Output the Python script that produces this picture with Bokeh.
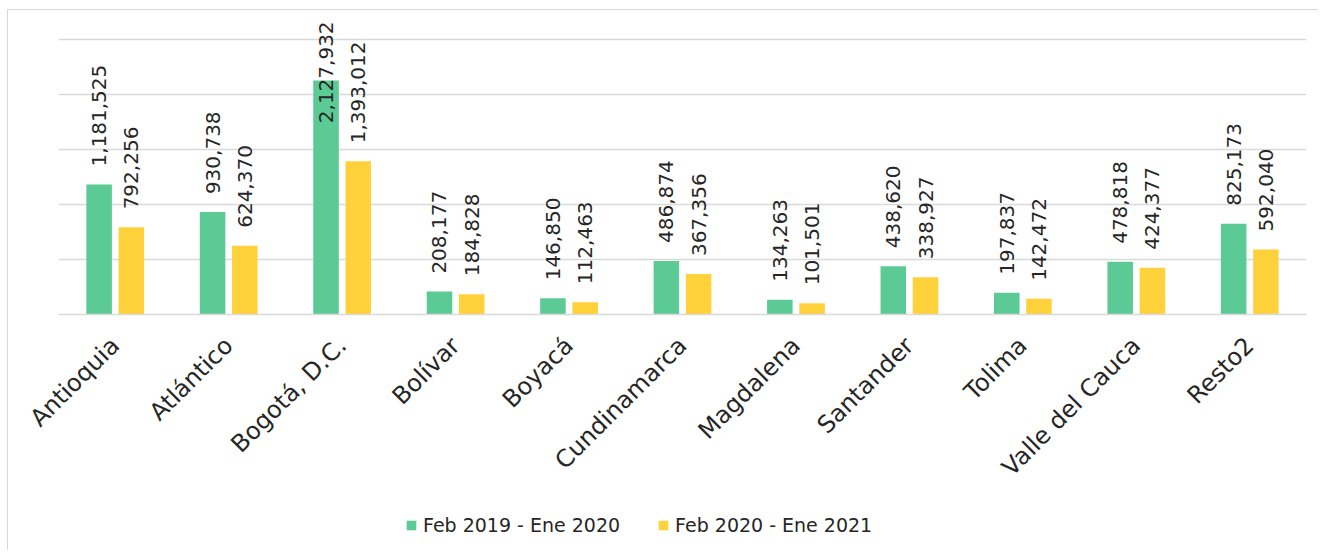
import math
from bokeh.plotting import figure
from bokeh.layouts import column
from bokeh.models import ColumnDataSource, FactorRange, Legend, LegendItem, FixedTicker, Range1d
from bokeh.transform import dodge
from bokeh.embed import file_html
from bokeh.resources import INLINE
from bokeh.core.properties import value

categories = ["Antioquia", "Atlántico", "Bogotá, D.C.", "Bolívar", "Boyacá", "Cundinamarca",
              "Magdalena", "Santander", "Tolima", "Valle del Cauca", "Resto2"]
series_names = ["Feb 2019 - Ene 2020", "Feb 2020 - Ene 2021"]
values_2019 = [1181525, 930738, 2127932, 208177, 146850, 486874, 134263, 438620, 197837, 478818, 825173]
values_2020 = [792256, 624370, 1393012, 184828, 112463, 367356, 101501, 338927, 142472, 424377, 592040]
grid_ticks = [0, 500000, 1000000, 1500000, 2000000, 2500000]

GREEN = "#5BCA95"
YELLOW = "#FFD13B"
GRID = "#D9D9D9"
TEXT = "#262626"
FONT = "DejaVu Sans"

# layout: 2.5M gridline sits 275px above the baseline, frame is 296px tall
Y_END = 2500000 * 296 / 275
PX = 2500000 / 275          # data units per pixel
LABEL_GAP = 18 * PX
LABEL_CAP = 2500000 * (314.3 - 123) / 275


def label_pos(vals):
    return [min(v + LABEL_GAP, LABEL_CAP) for v in vals]


src = ColumnDataSource(dict(
    cat=categories,
    v1=values_2019,
    v2=values_2020,
    l1=label_pos(values_2019),
    l2=label_pos(values_2020),
    t1=[f"{v:,}" for v in values_2019],
    t2=[f"{v:,}" for v in values_2020],
))

p = figure(width=1310, height=495,
           x_range=FactorRange(*categories, range_padding=0),
           y_range=Range1d(0, Y_END),
           output_backend="svg", toolbar_location=None,
           y_axis_location=None,
           min_border_left=50, min_border_right=12,
           min_border_top=8, min_border_bottom=191)
p.outline_line_color = None
p.background_fill_color = "white"
p.border_fill_color = "white"

OFF = 0.142
r1 = p.vbar(x=dodge("cat", -OFF, range=p.x_range), top="v1", width=0.225,
            source=src, fill_color=GREEN, line_color=None)
r2 = p.vbar(x=dodge("cat", OFF, range=p.x_range), top="v2", width=0.225,
            source=src, fill_color=YELLOW, line_color=None)

for col, lab, off in (("l1", "t1", -OFF), ("l2", "t2", OFF)):
    p.text(x=dodge("cat", off, range=p.x_range), y=col, text=lab, source=src,
           angle=math.pi / 2, text_align="left", text_baseline="middle",
           text_font=value(FONT), text_font_size="20px", text_color=TEXT)

p.xgrid.grid_line_color = None
p.ygrid.ticker = FixedTicker(ticks=grid_ticks)
p.ygrid.grid_line_color = GRID
p.ygrid.grid_line_width = 1.6

ax = p.xaxis[0]
ax.major_label_orientation = math.pi / 4
ax.major_label_text_font = FONT
ax.major_label_text_font_size = "24px"
ax.major_label_text_color = TEXT
ax.major_label_standoff = 21
ax.axis_line_color = GRID
ax.axis_line_width = 1.6
ax.major_tick_line_color = None
ax.minor_tick_line_color = None

# legend strip below the chart (its frame aligns with the chart's frame)
pl = figure(width=1310, height=45, x_range=Range1d(0, 1), y_range=Range1d(0, 1),
            output_backend="svg", toolbar_location=None,
            x_axis_location=None, y_axis_location=None,
            min_border_left=0, min_border_right=0, min_border_top=0, min_border_bottom=0)
pl.outline_line_color = None
pl.xgrid.grid_line_color = None
pl.ygrid.grid_line_color = None
# legend-only swatch renderers, placed outside the visible range
g1 = pl.vbar(x=[-5], top=[0], width=0.1, fill_color=GREEN, line_color=None)
g2 = pl.vbar(x=[-5], top=[0], width=0.1, fill_color=YELLOW, line_color=None)

legend = Legend(items=[LegendItem(label=series_names[0], renderers=[g1]),
                       LegendItem(label=series_names[1], renderers=[g2])],
                location=(347, 14), orientation="horizontal",
                glyph_width=12, glyph_height=12, label_standoff=6, spacing=37,
                label_text_font=FONT, label_text_font_size="19px", label_text_color=TEXT,
                padding=0, margin=0, border_line_color=None, background_fill_alpha=0)
pl.add_layout(legend)

layout = column(p, pl, spacing=0,
                styles={"margin-left": "7px", "margin-top": "9px",
                        "border-left": "1px solid #D9D9D9", "border-top": "1px solid #D9D9D9"})

open("out.html", "w").write(file_html(layout, INLINE))
